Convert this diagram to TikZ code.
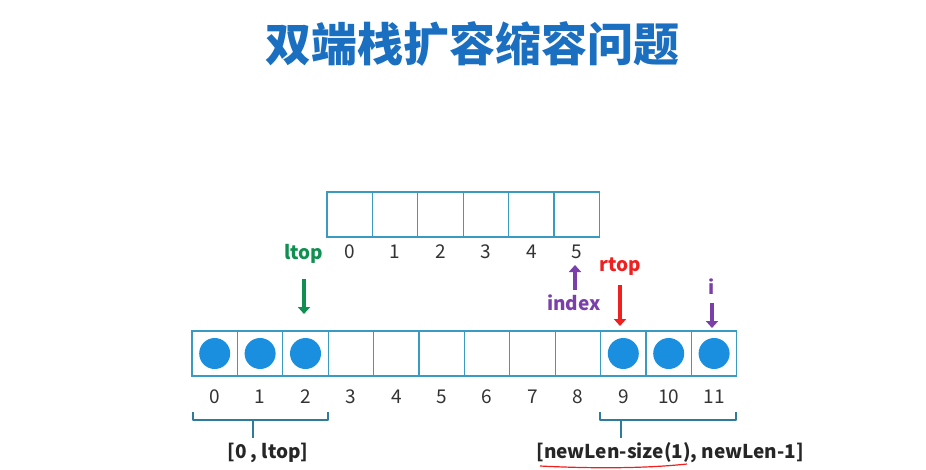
\documentclass[tikz,border=0pt]{standalone}
\usepackage{fontspec}
\setmainfont{Noto Sans CJK SC}
\usetikzlibrary{arrows.meta}
\definecolor{cellc}{HTML}{3A9AC0}
\definecolor{dotc}{HTML}{1A8FE0}
\definecolor{titlec}{HTML}{1A6FC0}
\definecolor{grn}{HTML}{109050}
\definecolor{pur}{HTML}{7A3FA8}
\definecolor{rd}{HTML}{F02020}
\begin{document}
\begin{tikzpicture}[x=1pt,y=-1pt,
  cell/.style={draw=cellc,line width=1.2pt,minimum width=45.4pt,minimum height=45pt,inner sep=0pt,outer sep=0pt},
  dot/.style={circle,fill=dotc,minimum size=31pt,inner sep=0pt},
  idx/.style={font=\fontsize{19}{19}\selectfont,text=black!80},
  lab/.style={font=\bfseries\fontsize{19}{19}\selectfont},
  parr/.style={line width=4.5pt,-{Triangle[length=7pt,width=12pt]}},
  brace/.style={draw=cellc!80!black,line width=1.2pt,line join=round}]
\useasboundingbox (0,0) rectangle (926,469);
\fill[white] (0,0) rectangle (926,469);
\node[text=titlec,font=\bfseries\fontsize{46}{46}\selectfont] (title) at (472,44) {双端栈扩容缩容问题};
\foreach \k in {0,...,5}{
  \node[cell] (t\k) at ({327+22.7+45.4*\k},214.5) {};
  \node[idx] (ti\k) at ({327+22.7+45.4*\k},252) {\k};
}
\foreach \k in {0,...,11}{
  \node[cell] (b\k) at ({192+22.7+45.4*\k},353.5) {};
  \node[idx] (bi\k) at ({192+22.7+45.4*\k},397) {\k};
}
\foreach \k in {0,1,2,9,10,11}{\node[dot] (d\k) at (b\k) {};}
\node[lab,text=grn] (ltop) at (304,254) {ltop};
\coordinate (la) at (304,279); \coordinate (lb) at (304,314);
\draw[parr,grn] (la) -- (lb);
\node[lab,text=pur] (index) at (574,303) {index};
\coordinate (ia) at (575,290); \coordinate (ib) at (575,265);
\draw[parr,pur] (ia) -- (ib);
\node[lab,text=rd] (rtop) at (620,267) {rtop};
\coordinate (ra) at (620,285); \coordinate (rb) at (620,326);
\draw[parr,rd] (ra) -- (rb);
\node[lab,text=pur] (iv) at (712,287) {i};
\coordinate (va) at (712,303); \coordinate (vb) at (712,328);
\draw[parr,pur] (va) -- (vb);
\draw[brace] (193,412) -- (193,420) -- (328,420) -- (328,412);
\draw[brace] (253,420) -- (253,438);
\draw[brace] (600,412) -- (600,420) -- (736,420) -- (736,412);
\draw[brace] (621,420) -- (621,438);
\node[lab,text=black!85,anchor=center] (l1) at (268,453) {[0 , ltop]};
\node[lab,text=black!85,anchor=west] (l2) at (533,453) {[newLen-size(1), newLen-1]};
\draw[rd,line width=1.2pt] (540,466) .. controls (600,469) and (650,468) .. (687,464);
\end{tikzpicture}
\end{document}
